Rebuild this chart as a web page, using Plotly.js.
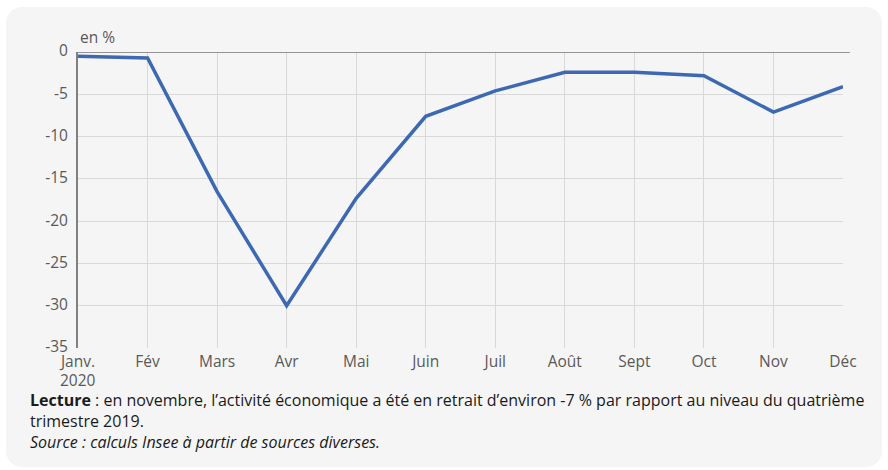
<!DOCTYPE html>
<html>
<head>
<meta charset="utf-8">
<script src="https://cdn.plot.ly/plotly-3.0.1.min.js"></script>
<style>
  html, body { margin: 0; padding: 0; background: #ffffff; }
  #bg { position: absolute; left: 6px; top: 7px; width: 876px; height: 460px; background: #f5f5f5; border-radius: 16px; }
  #chart { position: absolute; left: 0; top: 0; width: 888px; height: 470px; }
</style>
</head>
<body>
<div id="bg"></div>
<div id="chart"></div>
<script>
const months = ["Janv.", "Fév", "Mars", "Avr", "Mai", "Juin", "Juil", "Août", "Sept", "Oct", "Nov", "Déc"];
const yearLabel = "2020";
const activite = [-0.5, -0.7, -16.5, -30.0, -17.3, -7.6, -4.6, -2.4, -2.4, -2.8, -7.1, -4.1];
const yTicks = [0, -5, -10, -15, -20, -25, -30, -35];
const unitLabel = "en %";
const lectureText = "<b>Lecture</b> : en novembre, l’activité économique a été en retrait d’environ -7 % par rapport au niveau du quatrième";
const lectureText2 = "trimestre 2019.";
const sourceText = "<i>Source : calculs Insee à partir de sources diverses.</i>";

const xIdx = months.map((_, i) => i);
const font = "Open Sans, sans-serif";

const trace = {
  x: xIdx,
  y: activite,
  type: "scatter",
  mode: "lines",
  line: { color: "#3d68b2", width: 3.5 },
  hoverinfo: "skip"
};

const layout = {
  width: 888,
  height: 470,
  margin: { l: 78, r: 45, t: 52, b: 122 },
  paper_bgcolor: "rgba(0,0,0,0)",
  plot_bgcolor: "rgba(0,0,0,0)",
  showlegend: false,
  font: { family: font, color: "#595959", size: 15.5 },
  xaxis: {
    range: [0, 11],
    tickvals: xIdx,
    ticktext: months,
    showgrid: true,
    gridcolor: "#d9d9d9",
    gridwidth: 1,
    zeroline: false,
    showline: false,
    ticks: "",
    ticklabelstandoff: 2,
    tickfont: { family: font, size: 15.5, color: "#595959" },
    fixedrange: true
  },
  yaxis: {
    range: [-35, 0],
    tickvals: yTicks,
    ticktext: yTicks.map(String),
    showgrid: true,
    gridcolor: "#d9d9d9",
    gridwidth: 1,
    zeroline: false,
    showline: true,
    linecolor: "#808080",
    linewidth: 2,
    ticks: "",
    ticklabelstandoff: 5,
    ticklabelshift: -1,
    tickfont: { family: font, size: 15.5, color: "#595959" },
    fixedrange: true
  },
  shapes: [
    { type: "line", xref: "paper", yref: "y", x0: 0, x1: 1.009, y0: 0, y1: 0,
      line: { color: "#737373", width: 1.5 }, layer: "above" }
  ],
  annotations: [
    { text: yearLabel, xref: "x", yref: "paper", x: 0, y: 0, yshift: -32,
      xanchor: "center", yanchor: "middle", showarrow: false,
      font: { family: font, size: 15.5, color: "#595959" } },
    { text: unitLabel, xref: "paper", yref: "paper", x: 0, y: 1, yshift: 15,
      xanchor: "left", yanchor: "middle", showarrow: false,
      font: { family: font, size: 15.5, color: "#595959" } },
    { text: lectureText, xref: "paper", yref: "paper", x: -0.066, y: 0, yshift: -52,
      xanchor: "left", yanchor: "middle", showarrow: false, align: "left",
      font: { family: font, size: 16, color: "#1a1a1a" } },
    { text: lectureText2, xref: "paper", yref: "paper", x: -0.066, y: 0, yshift: -73,
      xanchor: "left", yanchor: "middle", showarrow: false, align: "left",
      font: { family: font, size: 16, color: "#1a1a1a" } },
    { text: sourceText, xref: "paper", yref: "paper", x: -0.066, y: 0, yshift: -94,
      xanchor: "left", yanchor: "middle", showarrow: false, align: "left",
      font: { family: font, size: 16, color: "#1a1a1a" } }
  ]
};

Plotly.newPlot("chart", [trace], layout, { displayModeBar: false, staticPlot: true });
</script>
</body>
</html>
